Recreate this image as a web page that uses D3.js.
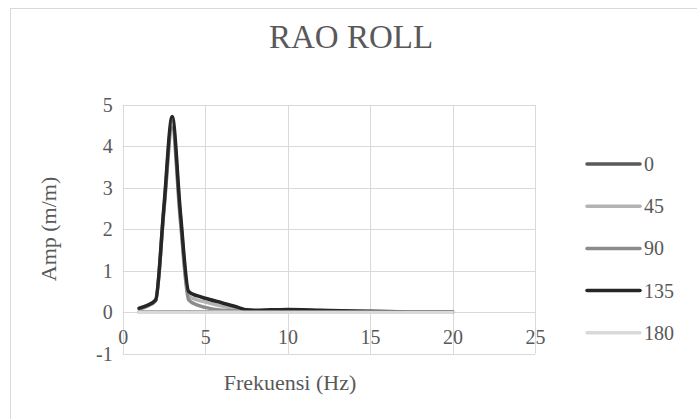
<!DOCTYPE html>
<html>
<head>
<meta charset="utf-8">
<script src="https://cdn.jsdelivr.net/npm/d3@7"></script>
<style>
  html, body { margin: 0; padding: 0; background: #fff; }
  svg { display: block; font-family: "Liberation Serif", "Times New Roman", serif; }
  .axis path { display: none; }
  .axis text { fill: #595959; font-size: 20px; font-family: "Liberation Serif", "Times New Roman", serif; }
</style>
</head>
<body>
<div id="chart"></div>
<script>
// RAO roll amplitude per wave heading
const freq = [1, 1.5, 2, 2.5, 3, 3.5, 4, 4.5, 5, 6, 7, 7.5, 8, 9, 10, 12, 14, 16, 18, 20];

const headings = ["0", "45", "90", "135", "180"];

const amp0   = [0.01, 0.01, 0.01, 0.01, 0.01, 0.01, 0.01, 0.01, 0.01, 0.01, 0.01, 0.01, 0.01, 0.01, 0.01, 0.01, 0.01, 0.01, 0.01, 0.01];
const amp45  = [0.09, 0.16, 0.29, 2.5, 4.6, 2.3, 0.4, 0.3, 0.25, 0.15, 0.08, 0.05, 0.04, 0.05, 0.06, 0.04, 0.02, 0.01, 0.01, 0.0];
const amp90  = [0.08, 0.15, 0.28, 2.45, 4.45, 2.2, 0.3, 0.18, 0.12, 0.05, 0.03, 0.03, 0.03, 0.04, 0.05, 0.04, 0.02, 0.01, 0.01, 0.0];
const amp135 = [0.1, 0.17, 0.3, 2.55, 4.72, 2.4, 0.5, 0.4, 0.34, 0.23, 0.12, 0.06, 0.05, 0.06, 0.07, 0.05, 0.03, 0.02, 0.01, 0.01];
const amp180 = [0, 0, 0, 0, 0, 0, 0, 0, 0, 0, 0, 0, 0, 0, 0, 0, 0, 0, 0, 0];

const xTicks = [0, 5, 10, 15, 20, 25];
const yTicks = [-1, 0, 1, 2, 3, 4, 5];

const series = [
  { name: headings[0], values: amp0,   color: "#595959" },
  { name: headings[1], values: amp45,  color: "#b3b3b3" },
  { name: headings[2], values: amp90,  color: "#8c8c8c" },
  { name: headings[3], values: amp135, color: "#262626" },
  { name: headings[4], values: amp180, color: "#d9d9d9" }
];

const W = 697, H = 419;
const plot = { left: 122.7, right: 535, top: 105, bottom: 353.8 };
const serif = "'Liberation Serif', 'Times New Roman', serif";

const svg = d3.select("#chart").append("svg")
  .attr("width", W).attr("height", H);

// outer chart border (runs off the picture on the right and bottom)
svg.append("rect")
  .attr("x", 10.5).attr("y", 8.5)
  .attr("width", 700).attr("height", 430)
  .attr("fill", "none").attr("stroke", "#d9d9d9");

svg.append("text")
  .attr("x", 351).attr("y", 48)
  .attr("text-anchor", "middle")
  .attr("font-family", serif)
  .style("font-size", "33px").style("fill", "#595959")
  .text("RAO ROLL");

const x = d3.scaleLinear().domain([0, 25]).range([plot.left, plot.right]);
const y = d3.scaleLinear().domain([-1, 5]).range([plot.bottom, plot.top]);

// gridlines
const grid = svg.append("g");
grid.selectAll("line.h").data(yTicks).enter().append("line")
  .attr("class", "h")
  .attr("x1", plot.left).attr("x2", plot.right)
  .attr("y1", (d) => Math.round(y(d)) + 0.5).attr("y2", (d) => Math.round(y(d)) + 0.5)
  .attr("stroke", "#d9d9d9");
grid.selectAll("line.v").data(xTicks).enter().append("line")
  .attr("class", "v")
  .attr("x1", (d) => Math.round(x(d)) + 0.5).attr("x2", (d) => Math.round(x(d)) + 0.5)
  .attr("y1", plot.top).attr("y2", plot.bottom)
  .attr("stroke", "#d9d9d9");

const fmt = (d) => String(d); // plain hyphen for -1, like the original

// x labels sit under the zero line, where the axis crosses
svg.append("g").attr("class", "axis")
  .attr("transform", `translate(0,${y(0)})`)
  .call(d3.axisBottom(x).tickValues(xTicks).tickSize(0).tickPadding(17).tickFormat(fmt))
  .attr("font-family", serif).attr("font-size", 20);

svg.append("g").attr("class", "axis")
  .attr("transform", `translate(${plot.left},0)`)
  .call(d3.axisLeft(y).tickValues(yTicks).tickSize(0).tickPadding(10).tickFormat(fmt))
  .attr("font-family", serif).attr("font-size", 20);

const line = d3.line()
  .x((d, i) => x(freq[i]))
  .y((d) => y(d))
  .curve(d3.curveMonotoneX);

svg.append("g").selectAll("path").data(series).enter().append("path")
  .attr("d", (s) => line(s.values))
  .attr("fill", "none")
  .attr("stroke", (s) => s.color)
  .attr("stroke-width", 3.5)
  .attr("stroke-linecap", "round")
  .attr("stroke-linejoin", "round");

// axis titles
svg.append("text")
  .attr("x", 290).attr("y", 390)
  .attr("text-anchor", "middle")
  .attr("font-family", serif)
  .style("font-size", "22px").style("fill", "#595959")
  .text("Frekuensi (Hz)");

svg.append("text")
  .attr("transform", "translate(56,229) rotate(-90)")
  .attr("text-anchor", "middle")
  .attr("font-family", serif)
  .style("font-size", "22px").style("fill", "#595959")
  .text("Amp (m/m)");

// legend
const legend = svg.append("g").selectAll("g").data(series).enter().append("g")
  .attr("transform", (s, i) => `translate(587,${164 + i * 42.2})`);
legend.append("line")
  .attr("x1", 0).attr("x2", 53)
  .attr("stroke", (s) => s.color)
  .attr("stroke-width", 3.5)
  .attr("stroke-linecap", "round");
legend.append("text")
  .attr("x", 57).attr("y", 7)
  .attr("font-family", serif)
  .style("font-size", "20px").style("fill", "#595959")
  .text((s) => s.name);
</script>
</body>
</html>
